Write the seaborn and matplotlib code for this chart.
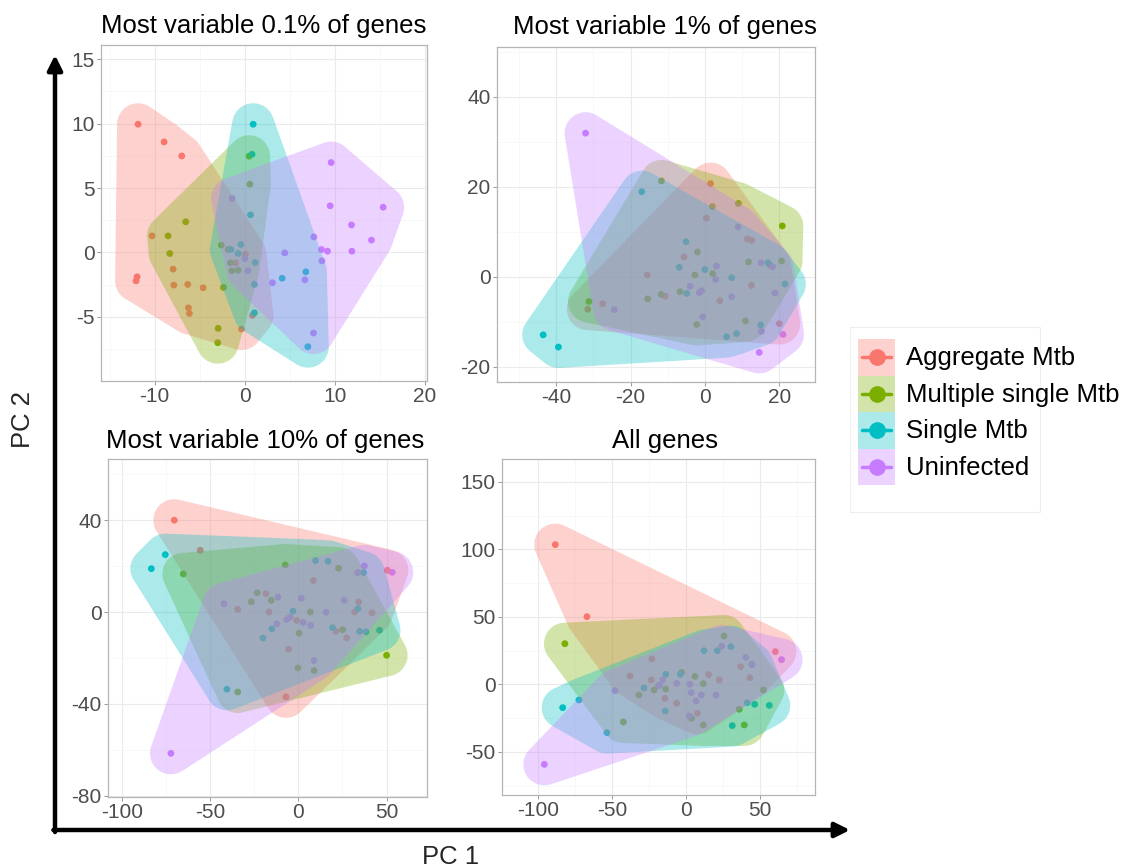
import numpy as np
import pandas as pd
import matplotlib
matplotlib.use("Agg")
import matplotlib.pyplot as plt
import seaborn as sns
from matplotlib.patches import Rectangle, Polygon
from matplotlib.lines import Line2D

groups = ["Aggregate Mtb", "Multiple single Mtb", "Single Mtb", "Uninfected"]
colors = ["#F8766D", "#7CAE00", "#00BFC4", "#C77CFF"]
titles = ["Most variable 0.1% of genes", "Most variable 1% of genes",
          "Most variable 10% of genes", "All genes"]

# ---- Panel 1: most variable 0.1% ----
p1_agg_x = [-11.85, -8.96, -7.0, -11.96, -12.07, -10.3, -7.96, -7.88, -6.33, -4.63, -6.26, -6.15, -0.37, 0.85, -1.0, 0.07]
p1_agg_y = [9.95, 8.58, 7.49, -1.89, -2.2, 1.29, -1.29, -2.53, -2.48, -2.74, -4.29, -4.73, -5.94, -4.88, -0.8, -0.13]
p1_mul_x = [-8.52, -8.33, -6.56, -2.37, -2.96, -3.0, -2.6, 0.48, 0.56, -1.6, -1.44, -1.85, -0.74]
p1_mul_y = [1.29, -0.08, 2.38, -2.71, -5.89, -7.0, 0.57, 7.47, 5.3, -0.8, -1.42, 0.23, -1.37]
p1_sin_x = [0.93, 0.81, 0.63, -0.44, 1.15, 1.07, 1.07, 4.15, 6.78, 7.0, -0.74, -1.55]
p1_sin_y = [9.95, 7.62, 2.92, 0.62, -0.78, -2.48, -4.68, -2.0, -1.5, -7.31, -0.08, 0.23]
p1_uni_x = [9.59, 9.48, 15.37, 11.85, 14.07, 11.89, 7.67, 8.52, 9.19, 8.56, 4.44, 3.07, 6.67, 7.63, -1.41, 0.0, 0.33]
p1_uni_y = [6.98, 3.62, 3.51, 2.14, 0.96, 0.1, 1.21, 0.23, 0.1, -0.65, -0.03, -2.35, -2.12, -6.25, 4.19, -0.47, -1.42]

# ---- Panel 2: most variable 1% ----
p2_agg_x = [1.5, 0.4, 11.4, 12.6, -5.6, -15.5, -27.5, -31.5, -10.7, 12.5, 4.0, 20.0, 17.5]
p2_agg_y = [20.7, 13.0, 8.4, 8.1, 4.4, 0.4, -6.0, -7.2, -4.3, -1.9, -5.3, -10.4, 2.6]
p2_mul_x = [-11.7, 9.0, 20.8, 2.0, 20.6, 11.7, -2.0, 2.1, -2.7, -6.7, -11.8, -15.4, -31.2, -2.2, 10.9]
p2_mul_y = [21.3, 16.3, 11.3, 15.6, 3.5, 3.3, 5.5, 0.7, 0.4, -3.3, -3.9, -4.9, -5.5, -10.6, -9.8]
p2_sin_x = [-17.0, -5.1, -6.9, 0.0, -4.9, 7.2, 17.0, 21.5, 15.0, 8.5, 5.8, -43.5, -39.4]
p2_sin_y = [18.9, 7.8, 2.1, 1.6, -3.7, -0.2, 3.1, -1.6, -10.7, -12.6, -13.3, -12.9, -15.6]
p2_uni_x = [-32.1, -24.4, 8.9, 3.1, -4.0, -1.5, -0.9, -0.6, 7.2, 15.1, 18.8, 15.2, 21.0, 14.6, 18.2, 2.9]
p2_uni_y = [31.9, -7.3, 11.1, 2.4, -2.1, -3.5, -3.1, -8.9, -4.4, 3.1, -3.6, -12.1, -12.8, -16.8, 2.2, -0.6]

# ---- Panel 3: most variable 10% ----
p3_agg_x = [-70.2, -55.5, -34.3, -18.3, -16.6, -0.9, -5.5, 8.5, 21.3, 27.4, 31.9, 34.2, 41.7, 50.4, -7.0]
p3_agg_y = [40.0, 26.9, 1.2, 8.0, 0.0, -3.6, -16.1, 13.7, -8.4, -11.2, 0.0, 4.4, -0.3, 18.2, -36.9]
p3_mul_x = [-65.1, -7.4, -23.2, -26.6, -15.3, 6.8, 0.4, -0.2, 8.9, 25.1, 22.8, 50.0, -34.3]
p3_mul_y = [16.6, 20.5, 8.4, 4.5, 5.1, 0.0, -9.2, -24.3, -25.5, -7.7, 19.1, -18.8, -34.8]
p3_sin_x = [-83.2, -75.3, 9.8, 16.8, -3.0, -14.9, -20.0, 19.4, 33.8, 37.0, 34.7, 38.3, 46.0, -40.4]
p3_sin_y = [18.9, 25.0, 22.4, 22.1, 0.4, -7.3, -11.3, -6.8, 1.5, 17.2, -8.4, -8.6, -7.9, -33.6]
p3_uni_x = [-72.1, -42.1, -11.5, 1.7, -4.7, -6.6, 2.8, 7.0, 15.7, 26.0, 33.6, 37.4, 53.2, 8.9, -12.1]
p3_uni_y = [-61.5, 3.6, 6.5, 6.0, -2.2, -3.3, -4.5, -5.8, -0.1, 5.1, 17.2, 20.1, 17.3, -21.1, -5.1]

# ---- Panel 4: all genes ----
p4_agg_x = [-88.3, -66.9, -23.0, 60.4, -37.8, -23.4, -14.2, 15.3, 22.5, 36.9, 43.2, 7.7, -6.3, -18.7]
p4_agg_y = [103.5, 50.1, 18.8, 24.2, 6.2, 3.2, -10.4, 7.2, 3.2, 13.1, 4.9, -21.5, -14.1, -1.0]
p4_mul_x = [-81.8, -42.3, -31.8, -21.6, -13.7, -2.9, 6.1, 11.7, 25.7, 36.0, 39.4, 11.7, 52.3, 3.8]
p4_mul_y = [30.1, -27.9, -7.9, -4.2, -3.5, 8.9, 5.9, 0.5, 35.8, -18.5, -30.1, -30.1, -4.2, -25.2]
p4_sin_x = [-83.3, -72.3, -53.4, -28.4, -13.7, -14.0, -3.8, 12.2, 21.2, 30.4, 44.6, 41.4, 46.4, 56.3, 31.3]
p4_sin_y = [-17.3, -11.6, -35.8, -2.7, 7.4, -19.8, 7.4, 24.9, 24.9, 27.9, 14.8, -13.6, -14.8, -15.6, -30.6]
p4_uni_x = [-95.7, -48.0, -18.0, -15.8, -6.3, 2.7, 3.6, 6.8, 10.4, 20.3, 24.1, 40.5, 44.6, 64.6, 2.3]
p4_uni_y = [-59.3, -4.7, -1.0, 3.2, 0.7, 0.0, -6.2, -12.3, -7.9, -7.9, 28.4, 20.0, 14.6, 18.3, -23.5]

x_ticks = [[-10, 0, 10, 20], [-40, -20, 0, 20], [-100, -50, 0, 50], [-100, -50, 0, 50]]
y_ticks = [[-5, 0, 5, 10, 15], [-20, 0, 20, 40], [-80, -40, 0, 40], [-50, 0, 50, 100, 150]]

panels = [
    [(p1_agg_x, p1_agg_y), (p1_mul_x, p1_mul_y), (p1_sin_x, p1_sin_y), (p1_uni_x, p1_uni_y)],
    [(p2_agg_x, p2_agg_y), (p2_mul_x, p2_mul_y), (p2_sin_x, p2_sin_y), (p2_uni_x, p2_uni_y)],
    [(p3_agg_x, p3_agg_y), (p3_mul_x, p3_mul_y), (p3_sin_x, p3_sin_y), (p3_uni_x, p3_uni_y)],
    [(p4_agg_x, p4_agg_y), (p4_mul_x, p4_mul_y), (p4_sin_x, p4_sin_y), (p4_uni_x, p4_uni_y)],
]

# layout (pixels) and limits
boxes = [(100.7, 45, 426.7, 380.7), (496.7, 46.7, 815, 381.7),
         (107.7, 459.3, 426.7, 797), (501.7, 459.3, 815, 795)]
xlims = [(-16.0, 20.2), (-56.0, 29.6), (-107.9, 72.7), (-124.5, 87.2)]
ylims = [(-9.95, 16.1), (-23.3, 51.1), (-80.5, 66.5), (-82.0, 166.7)]
title_pos = [(264, 33), (665, 34), (265, 448), (665, 448)]

sns.set_theme(style="white")
plt.rcParams['font.family'] = ['Liberation Sans', 'DejaVu Sans']
plt.rcParams['axes.unicode_minus'] = False

W, H = 1130, 867
fig = plt.figure(figsize=(W / 100, H / 100), dpi=100)


def hull2d(P):
    P = sorted(map(tuple, P))

    def cross(o, a, b):
        return (a[0] - o[0]) * (b[1] - o[1]) - (a[1] - o[1]) * (b[0] - o[0])
    lower = []
    for p in P:
        while len(lower) >= 2 and cross(lower[-2], lower[-1], p) <= 0:
            lower.pop()
        lower.append(p)
    upper = []
    for p in reversed(P):
        while len(upper) >= 2 and cross(upper[-2], upper[-1], p) <= 0:
            upper.pop()
        upper.append(p)
    return np.array(lower[:-1] + upper[:-1])


def encircle(x, y, xl, yl, wpx, hpx, r=21, n=40):
    x = np.asarray(x, float)
    y = np.asarray(y, float)
    u = (x - xl[0]) / (xl[1] - xl[0]) * wpx
    v = (y - yl[0]) / (yl[1] - yl[0]) * hpx
    t = np.linspace(0, 2 * np.pi, n, endpoint=False)
    cu = (u[:, None] + r * np.cos(t)[None, :]).ravel()
    cv = (v[:, None] + r * np.sin(t)[None, :]).ravel()
    h = hull2d(np.column_stack([cu, cv]))
    hx = h[:, 0] / wpx * (xl[1] - xl[0]) + xl[0]
    hy = h[:, 1] / hpx * (yl[1] - yl[0]) + yl[0]
    return np.column_stack([hx, hy])


for i in range(4):
    l, t, r, b = boxes[i]
    ax = fig.add_axes([l / W, 1 - b / H, (r - l) / W, (b - t) / H])
    rows = []
    for g, (xs, ys) in zip(groups, panels[i]):
        for xv, yv in zip(xs, ys):
            rows.append((xv, yv, g))
    df = pd.DataFrame(rows, columns=["PC1", "PC2", "group"])
    sns.scatterplot(data=df, x="PC1", y="PC2", hue="group", hue_order=groups,
                    palette=colors, s=24, linewidth=0, legend=False, ax=ax, zorder=2)
    wpx, hpx = r - l, b - t
    for gi, (xs, ys) in enumerate(panels[i]):
        poly = encircle(xs, ys, xlims[i], ylims[i], wpx, hpx)
        ax.add_patch(Polygon(poly, closed=True, facecolor=colors[gi], alpha=0.33,
                             edgecolor='none', zorder=3))
    xt, yt = x_ticks[i], y_ticks[i]
    ax.set_xticks(xt)
    ax.set_yticks(yt)
    dx, dy = xt[1] - xt[0], yt[1] - yt[0]
    ax.set_xticks(np.arange(xt[0] - dx, xt[-1] + 2 * dx, dx) + dx / 2, minor=True)
    ax.set_yticks(np.arange(yt[0] - dy, yt[-1] + 2 * dy, dy) + dy / 2, minor=True)
    ax.set_xlim(*xlims[i])
    ax.set_ylim(*ylims[i])
    ax.grid(which='major', color='#EBEBEB', lw=0.8)
    ax.grid(which='minor', color='#F5F5F5', lw=0.5)
    ax.set_axisbelow(True)
    ax.tick_params(which='major', length=3, width=0.7, color='#999999', pad=1.5,
                   labelsize=15, labelcolor='#4D4D4D', bottom=True, left=True)
    ax.tick_params(which='minor', length=0)
    for s in ax.spines.values():
        s.set_color('#B5B5B5')
        s.set_linewidth(0.9)
    ax.set_xlabel("")
    ax.set_ylabel("")
    fig.text(title_pos[i][0] / W, 1 - title_pos[i][1] / H, titles[i], ha='center',
             va='baseline', fontsize=18.5, color='black')

# overlay for arrows & axis labels
ov = fig.add_axes([0, 0, 1, 1], zorder=10)
ov.set_xlim(0, W)
ov.set_ylim(H, 0)
ov.axis('off')
ov.annotate('', xy=(55, 55), xytext=(55, 832),
            arrowprops=dict(arrowstyle='-|>', lw=3.2, color='black', mutation_scale=22,
                            shrinkA=0, shrinkB=0))
ov.annotate('', xy=(850, 830), xytext=(53.4, 830),
            arrowprops=dict(arrowstyle='-|>', lw=3.2, color='black', mutation_scale=22,
                            shrinkA=0, shrinkB=0))
ov.text(451, 857, "PC 1", ha='center', va='center', fontsize=18.5)
ov.text(23, 420, "PC 2", ha='center', va='center', fontsize=18.5, rotation=90)

# legend
ov.add_patch(Rectangle((850, 327), 190, 185, facecolor='white', edgecolor='#EEEEEE', lw=0.8))
row_h = 36.5
for gi, g in enumerate(groups):
    y0 = 339 + gi * row_h
    ov.add_patch(Rectangle((858, y0), 37, row_h, facecolor=colors[gi], alpha=0.33,
                           edgecolor='none'))
    yc = y0 + row_h / 2
    ov.add_line(Line2D([862, 891], [yc, yc], color=colors[gi], lw=2.5))
    ov.plot([876.5], [yc], 'o', color=colors[gi], markersize=11)
    ov.text(906, yc + 1, g, ha='left', va='center', fontsize=18.5, color='black')

fig.savefig("out.png", dpi=100)
